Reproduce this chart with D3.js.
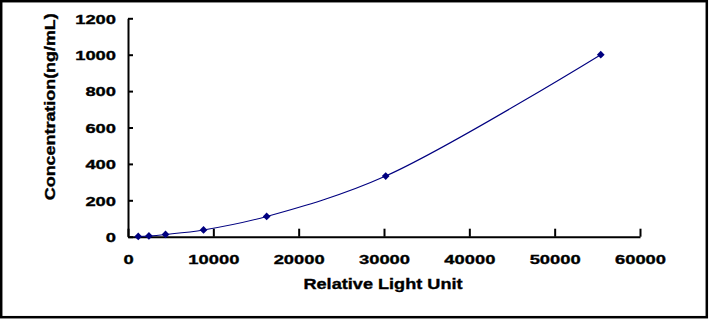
<!DOCTYPE html>
<html>
<head>
<meta charset="utf-8">
<script src="https://cdn.jsdelivr.net/npm/d3@7"></script>
<style>
html, body { margin: 0; padding: 0; background: #fff; }
svg { display: block; }
text { font-family: "Liberation Sans", Arial, sans-serif; font-weight: bold; fill: #000; stroke: #000; stroke-width: 0.35px; }
</style>
</head>
<body>
<svg id="chart" width="709" height="319"></svg>
<script>
// Data
const rlu = [1200, 2450, 4400, 8850, 16250, 30200, 55400];
const concentration = [1.37, 4.12, 12.35, 37.04, 111.1, 333.3, 1000];
const xTicks = [0, 10000, 20000, 30000, 40000, 50000, 60000];
const yTicks = [0, 200, 400, 600, 800, 1000, 1200];
const xTitle = "Relative Light Unit";
const yTitle = "Concentration(ng/mL)";

const svg = d3.select("#chart");

// Outer frame
svg.append("rect")
  .attr("x", 1.2).attr("y", 1.2)
  .attr("width", 705.6).attr("height", 316)
  .attr("fill", "#fff").attr("stroke", "#000").attr("stroke-width", 2.5);

const x = d3.scaleLinear().domain([0, 60000]).range([128, 640]);
const y = d3.scaleLinear().domain([0, 1200]).range([236.7, 18.3]);

const labelScale = 1.38;
const fontStack = '"Liberation Sans", Arial, sans-serif';

// X axis
const gx = svg.append("g").attr("transform", `translate(0,${y(0)})`)
  .call(d3.axisBottom(x).tickValues(xTicks).tickSize(-8).tickSizeOuter(0).tickFormat(d3.format("d")));
gx.select(".domain").attr("stroke", "#000").attr("stroke-width", 2);
gx.selectAll(".tick line").attr("stroke", "#000").attr("stroke-width", 2);
gx.selectAll(".tick text")
  .attr("font-size", 13.3).attr("y", null).attr("dy", null)
  .attr("transform", `translate(0,26.8) scale(${labelScale},1)`)
  .attr("text-anchor", "middle");

// Y axis
const gy = svg.append("g").attr("transform", `translate(${x(0)},0)`)
  .call(d3.axisLeft(y).tickValues(yTicks).tickSize(-5).tickSizeOuter(0).tickFormat(d3.format("d")));
gy.select(".domain").attr("stroke", "#000").attr("stroke-width", 2);
gy.selectAll(".tick line").attr("stroke", "#000").attr("stroke-width", 2);
gy.selectAll(".tick text")
  .attr("font-size", 13.3).attr("x", null).attr("dy", null)
  .attr("transform", `translate(-12,4.7) scale(${labelScale},1)`)
  .attr("text-anchor", "end");
svg.selectAll(".tick text")
  .style("font-family", fontStack).style("font-weight", "bold")
  .style("fill", "#000").style("stroke", "#000").style("stroke-width", "0.35px");

// Axis titles
svg.append("text")
  .attr("transform", `translate(383,289.3) scale(1.21,1)`)
  .attr("text-anchor", "middle").attr("font-size", 15)
  .text(xTitle);

svg.append("text")
  .attr("transform", `translate(54.5,106.7) rotate(-90) scale(1.28,1)`)
  .attr("text-anchor", "middle").attr("font-size", 14)
  .text(yTitle);

// Curve
const pts = rlu.map((v, i) => [v, concentration[i]]);
const line = d3.line()
  .x(d => x(d[0])).y(d => y(d[1]))
  .curve(d3.curveCatmullRom.alpha(0.5));
svg.append("path")
  .datum(pts)
  .attr("d", line)
  .attr("fill", "none").attr("stroke", "#000080").attr("stroke-width", 1.1);

// Markers
svg.append("g").selectAll("path")
  .data(pts).join("path")
  .attr("d", d3.symbol(d3.symbolSquare, 30))
  .attr("transform", d => `translate(${x(d[0])},${y(d[1])}) rotate(45)`)
  .attr("fill", "#000080");
</script>
</body>
</html>
